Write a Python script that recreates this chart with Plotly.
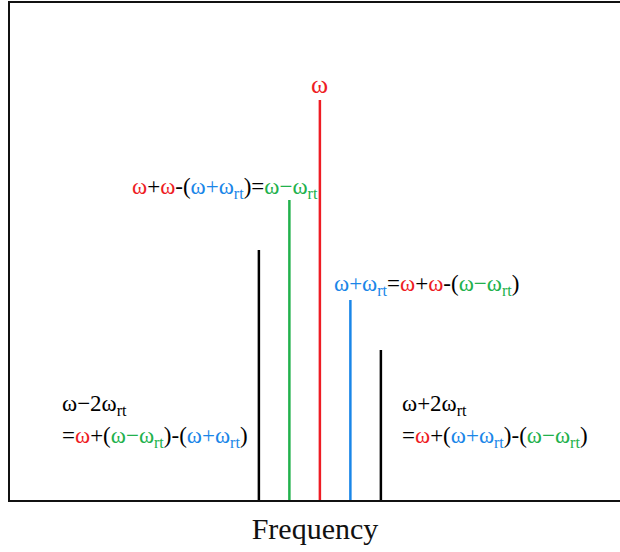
import plotly.graph_objects as go

# Spectral lines: relative frequency offsets (in units of omega_rt) and amplitudes
offsets = [-2, -1, 0, 1, 2]
amplitudes = [250, 300, 400, 200, 150]
colors = ["#000000", "#22b14c", "#ee1c24", "#1a86e8", "#000000"]

RED = "#ee1c24"
GREEN = "#22b14c"
BLUE = "#1a86e8"
BLACK = "#000000"

def c(txt, col):
    return f"<span style='color:{col}'>{txt}</span>"

SUB = "<sub>rt</sub>"
w = "ω"

fig = go.Figure()
for xo, amp, col in zip(offsets, amplitudes, colors):
    fig.add_trace(go.Scatter(x=[xo, xo], y=[0, amp], mode="lines",
                             line=dict(color=col, width=2.5),
                             showlegend=False, hoverinfo="skip"))

FAM = "Liberation Serif"
font = dict(family=FAM, size=23, color=BLACK)

annots = [
    # top omega
    dict(x=0, y=416, text=c(w, RED), xanchor="center", yanchor="middle", font=dict(font, size=26)),
    # green label
    dict(x=-6.23, y=312, text=c(w, RED) + c("+", BLACK) + c(w, RED) + c("-(", BLACK)
         + c(w + "+" + w + SUB, BLUE) + c(")=", BLACK) + c(w + "−" + w + SUB, GREEN),
         xanchor="left", yanchor="middle", font=font),
    # blue label
    dict(x=0.39, y=215, text=c(w + "+" + w + SUB, BLUE) + c("=", BLACK) + c(w, RED) + c("+", BLACK)
         + c(w, RED) + c("-(", BLACK) + c(w + "−" + w + SUB, GREEN) + c(")", BLACK),
         xanchor="left", yanchor="middle", font=font),
    # lower left
    dict(x=-8.52, y=95, text=w + "−2" + w + SUB, xanchor="left", yanchor="middle", font=font),
    dict(x=-8.52, y=63, text="=" + c(w, RED) + "+(" + c(w + "−" + w + SUB, GREEN) + ")-("
         + c(w + "+" + w + SUB, BLUE) + ")", xanchor="left", yanchor="middle", font=font),
    # lower right
    dict(x=2.62, y=95, text=w + "+2" + w + SUB, xanchor="left", yanchor="middle", font=font),
    dict(x=2.62, y=63, text="=" + c(w, RED) + "+(" + c(w + "+" + w + SUB, BLUE) + ")-("
         + c(w + "−" + w + SUB, GREEN) + ")", xanchor="left", yanchor="middle", font=font),
]
for a in annots:
    fig.add_annotation(xref="x", yref="y", showarrow=False, **a)

fig.update_layout(
    width=620, height=552,
    margin=dict(l=10, r=0, t=3, b=52),
    paper_bgcolor="white", plot_bgcolor="white",
    font=font,
    xaxis=dict(range=[-10.16, 9.84], showgrid=False, zeroline=False, showticklabels=False,
               ticks="", showline=True, linecolor="#111111", linewidth=2, mirror=True,
               title=dict(text="Frequency", font=dict(family=FAM, size=30, color="#111111"),
                          standoff=17)),
    yaxis=dict(range=[0, 497], showgrid=False, zeroline=False, showticklabels=False,
               ticks="", showline=True, linecolor="#111111", linewidth=2, mirror=False),
)

fig.write_html("out.html")
